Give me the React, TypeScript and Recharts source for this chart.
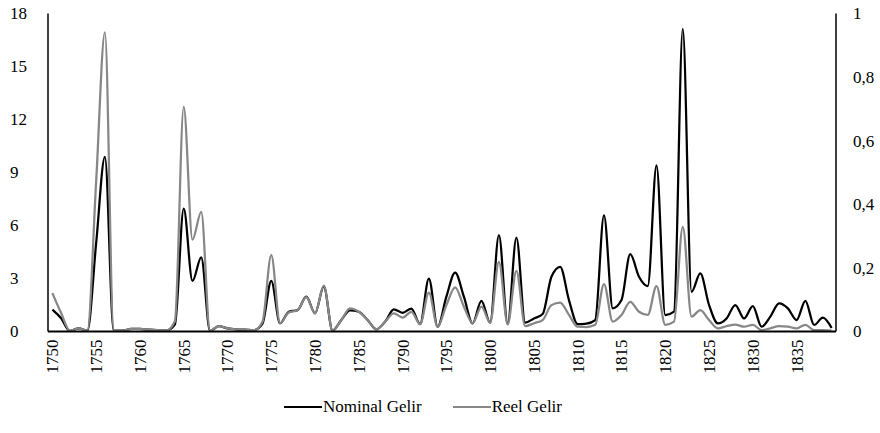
import { Legend, Line, LineChart, XAxis, YAxis } from "recharts";

const years = Array.from({ length: 90 }, (_, i) => String(1750 + i));

// Nominal Gelir, read against the left axis (0-18)
const nominal = [
  1.24, 0.75, 0.03, 0.18, 0.05, 5.0, 9.88, 0.05, 0.05, 0.15,
  0.15, 0.1, 0.08, 0.05, 0.4, 6.96, 2.86, 4.19, 0.03, 0.3,
  0.18, 0.12, 0.1, 0.08, 0.45, 2.87, 0.46, 1.12, 1.21, 1.97,
  1.03, 2.55, 0.05, 0.65, 1.2, 1.12, 0.65, 0.12, 0.55, 1.25,
  1.06, 1.3, 0.42, 3.0, 0.27, 1.97, 3.33, 1.97, 0.46, 1.74,
  0.5, 5.45, 0.42, 5.32, 0.5, 0.74, 0.99, 3.1, 3.66, 1.78,
  0.42, 0.45, 0.65, 6.58, 1.31, 1.78, 4.38, 3.1, 2.57, 9.41,
  0.93, 1.12, 17.13, 2.25, 3.29, 1.5, 0.46, 0.74, 1.5, 0.74,
  1.44, 0.27, 0.84, 1.59, 1.31, 0.65, 1.74, 0.37, 0.78, 0.2,
];

// Reel Gelir, read against the right axis (0-1)
const reel = [
  0.121, 0.058, 0.002, 0.01, 0.003, 0.472, 0.941, 0.003, 0.003, 0.008,
  0.008, 0.006, 0.004, 0.003, 0.033, 0.706, 0.289, 0.376, 0.002, 0.017,
  0.01, 0.007, 0.006, 0.004, 0.031, 0.24, 0.026, 0.06, 0.067, 0.108,
  0.057, 0.144, 0.003, 0.036, 0.073, 0.062, 0.036, 0.007, 0.031, 0.057,
  0.044, 0.062, 0.023, 0.122, 0.015, 0.083, 0.139, 0.078, 0.026, 0.078,
  0.028, 0.219, 0.023, 0.191, 0.017, 0.026, 0.036, 0.083, 0.091, 0.052,
  0.015, 0.014, 0.021, 0.149, 0.031, 0.052, 0.093, 0.062, 0.052, 0.143,
  0.021, 0.031, 0.329, 0.047, 0.067, 0.036, 0.01, 0.017, 0.022, 0.015,
  0.021, 0.004, 0.01, 0.017, 0.015, 0.01, 0.021, 0.004, 0.004, 0.003,
];

const leftTicks = [0, 3, 6, 9, 12, 15, 18];
const rightTicks = [0, 0.2, 0.4, 0.6, 0.8, 1];

const data = years.map((year, i) => ({ year, nominal: nominal[i], reel: reel[i] }));

const font = "'Liberation Serif', 'Times New Roman', serif";
const GRAY = "#878787";
const FS = 17;

function LeftTick({ y, payload }: any) {
  return (
    <text x={10} y={y} dy="0.35em" textAnchor="start" fontSize={FS} fontFamily={font} fill="#000">
      {payload.value}
    </text>
  );
}

function RightTick({ y, payload }: any) {
  return (
    <text x={853} y={y} dy="0.35em" textAnchor="start" fontSize={FS} fontFamily={font} fill="#000">
      {String(payload.value).replace(".", ",")}
    </text>
  );
}

function YearTick({ x, y, payload }: any) {
  return (
    <text
      transform={`translate(${x},${y}) rotate(-90)`}
      dy="0.35em"
      textAnchor="end"
      fontSize={FS}
      fontFamily={font}
      fill="#000"
    >
      {payload.value}
    </text>
  );
}

function LegendBox() {
  const item = (color: string, label: string, gap: number) => (
    <div style={{ display: "flex", alignItems: "center", marginRight: gap }}>
      <div style={{ width: 38, height: 2, background: color }} />
      <span style={{ fontFamily: font, fontSize: FS, color: "#000", marginLeft: 1 }}>{label}</span>
    </div>
  );
  return (
    <div style={{ display: "flex", justifyContent: "flex-start", paddingLeft: 284 }}>
      {item("#000", "Nominal Gelir", 31)}
      {item(GRAY, "Reel Gelir", 0)}
    </div>
  );
}

export default function App() {
  return (
    <div style={{ width: 880, height: 433, background: "#fff" }}>
      <style>{"body{margin:0}"}</style>
      <LineChart
        width={880}
        height={433}
        data={data}
        margin={{ top: 13.5, right: 0, bottom: 41.5, left: 0 }}
      >
        <XAxis
          dataKey="year"
          interval={4}
          padding={{ left: 4.38, right: 4.38 }}
          height={60}
          tickLine={false}
          axisLine={{ stroke: "#000", strokeWidth: 2 }}
          tick={<YearTick />}
        />
        <YAxis
          yAxisId="left"
          domain={[0, 18]}
          ticks={leftTicks}
          width={48}
          tickLine={false}
          axisLine={{ stroke: "#000", strokeWidth: 1.5 }}
          tick={<LeftTick />}
        />
        <YAxis
          yAxisId="right"
          orientation="right"
          domain={[0, 1]}
          ticks={rightTicks}
          width={44}
          tickLine={false}
          axisLine={{ stroke: "#000", strokeWidth: 1.5 }}
          tick={<RightTick />}
        />
        <Legend
          layout="horizontal"
          verticalAlign="middle"
          wrapperStyle={{ top: 397, left: 0, width: 880 }}
          content={<LegendBox />}
        />
        <Line
          yAxisId="left"
          type="monotone"
          dataKey="nominal"
          name="Nominal Gelir"
          stroke="#000"
          strokeWidth={2.25}
          dot={false}
          isAnimationActive={false}
        />
        <Line
          yAxisId="right"
          type="monotone"
          dataKey="reel"
          name="Reel Gelir"
          stroke={GRAY}
          strokeWidth={2.25}
          dot={false}
          isAnimationActive={false}
        />
      </LineChart>
    </div>
  );
}
